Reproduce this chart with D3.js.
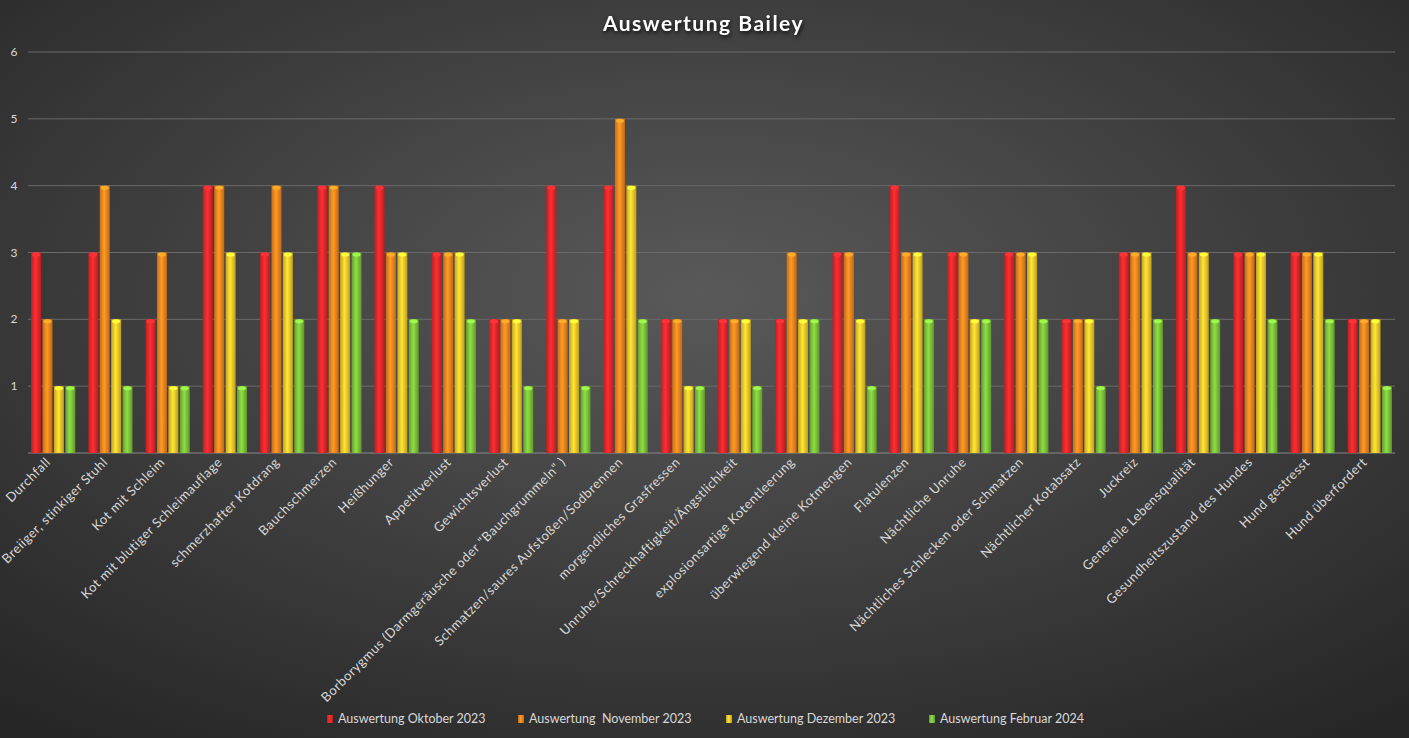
<!DOCTYPE html>
<html><head><meta charset="utf-8">
<script src="https://cdn.jsdelivr.net/npm/d3@7"></script>
<style>
body{margin:0;background:#2b2b2b;overflow:hidden}
svg{display:block;font-family:"Lato","DejaVu Sans",sans-serif}
</style></head><body>
<div id="chart"></div>
<script>
const categories = ["Durchfall","Breiiger, stinkiger Stuhl","Kot mit Schleim","Kot mit blutiger Schleimauflage","schmerzhafter Kotdrang","Bauchschmerzen","Heißhunger","Appetitverlust","Gewichtsverlust","Borborygmus (Darmgeräusche oder \"Bauchgrummeln\" )","Schmatzen/saures Aufstoßen/Sodbrennen","morgendliches Grasfressen","Unruhe/Schreckhaftigkeit/Ängstlichkeit","explosionsartige Kotentleerung","überwiegend kleine Kotmengen","Flatulenzen","Nächtliche Unruhe","Nächtliches Schlecken oder Schmatzen","Nächtlicher Kotabsatz","Juckreiz","Generelle Lebensqualität","Gesundheitszustand des Hundes","Hund gestresst","Hund überfordert"];
const seriesNames = ["Auswertung Oktober 2023","Auswertung  November 2023","Auswertung Dezember 2023","Auswertung Februar 2024"];
const oktober  = [3,3,2,4,3,4,4,3,2,4,4,2,2,2,3,4,3,3,2,3,4,3,3,2];
const november = [2,4,3,4,4,4,3,3,2,2,5,2,2,3,3,3,3,3,2,3,3,3,3,2];
const dezember = [1,2,1,3,3,3,3,3,2,2,4,1,2,2,2,3,2,3,2,3,3,3,3,2];
const februar  = [1,1,1,1,2,3,2,2,1,1,2,1,1,2,1,2,2,2,1,2,2,2,2,1];
const yTicks = [1,2,3,4,5,6];
const colors = ["#e8282b","#f7861f","#f5c82b","#7cc13a"];

const W = 1409, H = 738;
const margin = {top:52, right:14, bottom:285, left:28};
const width = W - margin.left - margin.right, height = H - margin.top - margin.bottom;
const series = [oktober, november, dezember, februar];

const svg = d3.select("#chart").append("svg").attr("width", W).attr("height", H);
const defs = svg.append("defs");
const bg = defs.append("radialGradient").attr("id","bg").attr("cx","50%").attr("cy","40%").attr("r","75%");
bg.append("stop").attr("offset","0%").attr("stop-color","#595959");
bg.append("stop").attr("offset","100%").attr("stop-color","#262626");
svg.append("rect").attr("width",W).attr("height",H).attr("fill","url(#bg)");

colors.forEach((c,i) => {
  const g = defs.append("linearGradient").attr("id","g"+i).attr("x1","0").attr("x2","1").attr("y1","0").attr("y2","0");
  g.append("stop").attr("offset","0%").attr("stop-color", d3.color(c).darker(0.6));
  g.append("stop").attr("offset","45%").attr("stop-color", d3.color(c).brighter(0.4));
  g.append("stop").attr("offset","100%").attr("stop-color", d3.color(c).darker(0.7));
});

const g = svg.append("g").attr("transform",`translate(${margin.left},${margin.top})`);
const x0 = d3.scaleBand().domain(categories).range([0,width]).paddingInner(0.18).paddingOuter(0.03);
const x1 = d3.scaleBand().domain(d3.range(4)).range([0,x0.bandwidth()]).padding(0.12);
const y = d3.scaleLinear().domain([0,6]).range([height,0]);

g.append("g").selectAll("line").data(yTicks).join("line")
  .attr("x1",0).attr("x2",width).attr("y1",d=>y(d)).attr("y2",d=>y(d))
  .attr("stroke","#6a6a6a").attr("stroke-width",1);
g.append("line").attr("x1",0).attr("x2",width).attr("y1",y(0)).attr("y2",y(0)).attr("stroke","#888");
g.append("g").selectAll("text").data(yTicks).join("text")
  .attr("x",-14).attr("y",d=>y(d)+4).attr("text-anchor","middle")
  .attr("fill","#d9d9d9").attr("font-size",12).text(d=>d);

const groups = g.append("g").selectAll("g").data(categories).join("g")
  .attr("transform", d=>`translate(${x0(d)},0)`);
groups.selectAll("rect").data((d,ci)=>series.map((s,si)=>({si, v:s[ci]}))).join("rect")
  .attr("x",d=>x1(d.si)).attr("width",x1.bandwidth())
  .attr("y",d=>y(d.v)).attr("height",d=>y(0)-y(d.v))
  .attr("fill",d=>`url(#g${d.si})`);
groups.selectAll("ellipse").data((d,ci)=>series.map((s,si)=>({si, v:s[ci]}))).join("ellipse")
  .attr("cx",d=>x1(d.si)+x1.bandwidth()/2).attr("cy",d=>y(d.v)+2)
  .attr("rx",x1.bandwidth()/2-1).attr("ry",2)
  .attr("fill",d=>d3.color(colors[d.si]).brighter(0.7));

g.append("g").selectAll("text").data(categories).join("text")
  .attr("transform",d=>`translate(${x0(d)+x0.bandwidth()/2-2},${height+10}) rotate(-45)`)
  .attr("text-anchor","end").attr("fill","#d9d9d9").attr("font-size",13).attr("letter-spacing",0.5).text(d=>d);

svg.append("text").attr("x",W/2-1).attr("y",31).attr("text-anchor","middle")
  .attr("fill","#fff").attr("font-size",21).attr("font-weight","bold").attr("letter-spacing",1.5)
  .style("filter","drop-shadow(1px 2px 2px rgba(0,0,0,0.8))").text("Auswertung Bailey");

const legX = [327, 518, 726, 929];
const leg = svg.append("g").selectAll("g").data(seriesNames).join("g")
  .attr("transform",(d,i)=>`translate(${legX[i]},719)`);
leg.append("rect").attr("x",0).attr("y",-4).attr("width",6).attr("height",8).attr("fill",(d,i)=>`url(#g${i})`);
leg.append("text").attr("x",11).attr("y",4).attr("fill","#d9d9d9").attr("font-size",12.5).attr("xml:space","preserve").text(d=>d);
</script>
</body></html>
